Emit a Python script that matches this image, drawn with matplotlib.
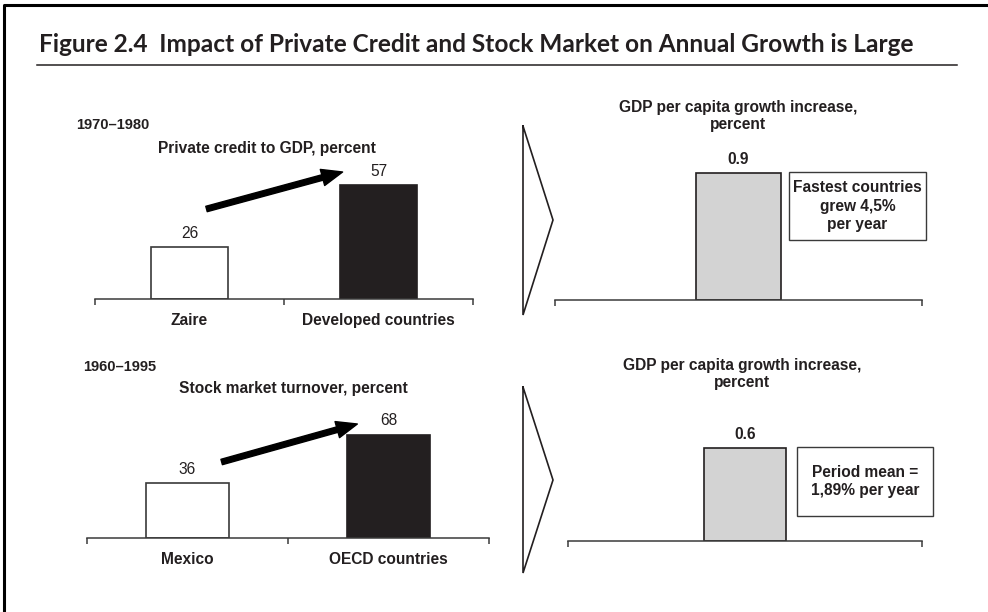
import matplotlib.pyplot as plt
from matplotlib.lines import Line2D
from matplotlib.patches import Rectangle

# --- Data ---
TITLE = "Figure 2.4  Impact of Private Credit and Stock Market on Annual Growth is Large"

credit_period = "1970\u20131980"
credit_title = "Private credit to GDP, percent"
credit_categories = ["Zaire", "Developed countries"]
credit_values = [26, 57]

turnover_period = "1960\u20131995"
turnover_title = "Stock market turnover, percent"
turnover_categories = ["Mexico", "OECD countries"]
turnover_values = [36, 68]

growth_title = "GDP per capita growth increase,\npercent"
growth_credit = [0.9]
growth_turnover = [0.6]
credit_note = "Fastest countries\ngrew 4,5%\nper year"
turnover_note = "Period mean =\n1,89% per year"

# --- Style ---
INK = '#231f20'
EDGE = '#3a3a3a'
GREY = '#d3d3d3'
FONT = 'Liberation Sans'
FS = 11.2

W, H = 988, 612
fig = plt.figure(figsize=(W / 100, H / 100), dpi=100)
fig.patch.set_facecolor('white')


def fx(x):
    return x / W


def fy(y):
    return 1 - y / H


def axes_px(left, right, top, bottom):
    return fig.add_axes([fx(left), fy(bottom), (right - left) / W, (bottom - top) / H])


def style_axes(ax, xlim, ticks):
    ax.set_xlim(*xlim)
    for side in ['left', 'right', 'top']:
        ax.spines[side].set_visible(False)
    ax.spines['bottom'].set_color(EDGE)
    ax.spines['bottom'].set_linewidth(1.1)
    ax.set_yticks([])
    ax.set_xticks(ticks)
    ax.set_xticklabels([])
    ax.tick_params(axis='x', which='major', direction='out', length=4.3,
                   width=1.1, color=EDGE)
    ax.patch.set_alpha(0)


def value_labels(ax, xs, vals, fmt, weight, off):
    for x, v in zip(xs, vals):
        ax.annotate(fmt.format(v), xy=(x, v), xytext=(0, off), textcoords='offset points',
                    ha='center', va='center', fontsize=FS, fontweight=weight,
                    family=FONT, color=INK, annotation_clip=False)


def cat_labels(ax, cats):
    ax.set_xticks(range(len(cats)), minor=True)
    ax.set_xticklabels(cats, minor=True, fontsize=FS, fontweight='bold', family=FONT, color=INK)
    ax.tick_params(axis='x', which='minor', length=0, pad=10)


def left_panel(ax, cats, vals, scale_top, arrow_from, arrow_to):
    style_axes(ax, (-0.5, 1.5), [-0.5, 0.5, 1.5])
    ax.set_ylim(0, scale_top)
    ax.bar([0, 1], vals, width=0.41, color=['white', INK], edgecolor=[EDGE, INK], linewidth=1.2)
    value_labels(ax, [0, 1], vals, "{}", 'normal', 10)
    cat_labels(ax, cats)
    ax.annotate('', xy=arrow_to, xytext=arrow_from, annotation_clip=False,
                arrowprops=dict(arrowstyle='simple,head_length=0.75,head_width=0.6,tail_width=0.2',
                                color='black', shrinkA=0, shrinkB=0, mutation_scale=20))


def right_panel(ax, val, scale_top, width):
    style_axes(ax, (-0.5, 0.5), [-0.5, 0.5])
    ax.set_ylim(0, scale_top)
    ax.bar([0], val, width=width, color=GREY, edgecolor=INK, linewidth=1.2)
    value_labels(ax, [0], val, "{:.1f}", 'bold', 10)


def chevron(top, tip, bottom, left=523, right=553):
    fig.add_artist(Line2D([fx(left), fx(right), fx(left), fx(left)],
                          [fy(top), fy(tip), fy(bottom), fy(top)],
                          color=INK, lw=1.2, transform=fig.transFigure,
                          solid_joinstyle='miter'))


def note_box(x0, x1, y0, y1, text):
    fig.add_artist(Rectangle((fx(x0), fy(y1)), (x1 - x0) / W, (y1 - y0) / H, fill=False,
                             edgecolor=EDGE, lw=1.0, transform=fig.transFigure))
    fig.text(fx((x0 + x1) / 2), fy((y0 + y1) / 2), text, ha='center', va='center',
             fontsize=FS, fontweight='bold', family=FONT, color=INK, linespacing=1.3)


# --- Frame and title ---
fig.add_artist(Line2D([fx(4), fx(4), fx(988)], [fy(612), fy(5), fy(5)],
                      color='black', lw=2.2, transform=fig.transFigure))
title = fig.text(fx(39), fy(52), TITLE, ha='left', va='baseline', fontsize=16,
                 family='Lato', fontweight='bold', color=INK)
renderer = fig.canvas.get_renderer()
tw = title.get_window_extent(renderer).width
title.set_fontsize(16 * 874 / tw)
fig.add_artist(Line2D([fx(37), fx(957)], [fy(65), fy(65)], color=INK, lw=1.1,
                      transform=fig.transFigure))

# --- Top row: private credit ---
fig.text(fx(76), fy(125), credit_period, ha='left', va='center', fontsize=10.5,
         fontweight='bold', family=FONT, color=INK)
fig.text(fx(267), fy(148), credit_title, ha='center', va='center', fontsize=FS,
         fontweight='bold', family=FONT, color=INK)
ax1 = axes_px(95, 473, 140, 299)
left_panel(ax1, credit_categories, credit_values, (299 - 140) / 2.0,
           (0.09, 45), (0.81, 63.5))

chevron(126, 220, 315)
fig.text(fx(738), fy(116), growth_title, ha='center', va='center', fontsize=FS,
         fontweight='bold', family=FONT, color=INK, linespacing=1.15)
ax2 = axes_px(555, 922, 140, 300)
right_panel(ax2, growth_credit, (300 - 140) / 141.0, 0.229)
note_box(789, 926, 172, 240, credit_note)

# --- Bottom row: stock market turnover ---
fig.text(fx(83), fy(367), turnover_period, ha='left', va='center', fontsize=10.5,
         fontweight='bold', family=FONT, color=INK)
fig.text(fx(293), fy(389), turnover_title, ha='center', va='center', fontsize=FS,
         fontweight='bold', family=FONT, color=INK)
ax3 = axes_px(87, 489, 390, 538)
left_panel(ax3, turnover_categories, turnover_values, (538 - 390) / 1.52,
           (0.17, 50), (0.845, 75))

chevron(387, 480, 573)
fig.text(fx(742), fy(374), growth_title, ha='center', va='center', fontsize=FS,
         fontweight='bold', family=FONT, color=INK, linespacing=1.15)
ax4 = axes_px(568, 922, 390, 541)
right_panel(ax4, growth_turnover, (541 - 390) / 155.0, 0.234)
note_box(797, 933, 447, 516, turnover_note)

fig.savefig('out.png', dpi=100)
